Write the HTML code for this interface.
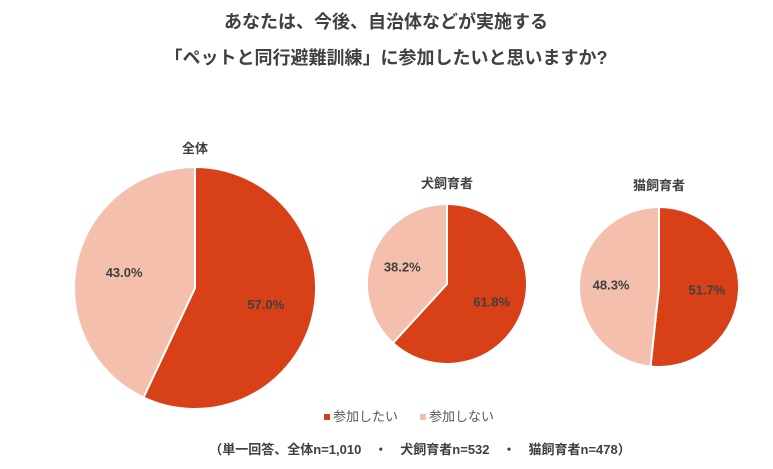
<!DOCTYPE html>
<html><head><meta charset="utf-8"><style>
body{margin:0;background:#fff;}
svg{display:block;font-family:"Liberation Sans","Noto Sans CJK JP",sans-serif;}
</style></head><body>
<svg id="c" width="773" height="469" viewBox="0 0 773 469">
<text x="386" y="28" text-anchor="middle" font-size="18" font-weight="bold" fill="#404040">あなたは、今後、自治体などが実施する</text>
<text x="386" y="64" text-anchor="middle" font-size="18" font-weight="bold" fill="#404040">「ペットと同行避難訓練」に参加したいと思いますか?</text>
<g id="pies"></g>
<rect x="324" y="414" width="6" height="6" fill="#d84018"/>
<text x="333" y="421" font-size="13" fill="#595959">参加したい</text>
<rect x="420" y="414" width="6" height="6" fill="#f5bfae"/>
<text x="429" y="421" font-size="13" fill="#595959">参加しない</text>
<text x="420" y="454" text-anchor="middle" font-size="13" font-weight="bold" fill="#404040">（単一回答、全体n=1,010　・　犬飼育者n=532　・　猫飼育者n=478）</text>
</svg>
<script>
const groups = ["全体","犬飼育者","猫飼育者"];
const yesValues = [57.0, 61.8, 51.7];
const noValues = [43.0, 38.2, 48.3];
const layout = [{cx:195,cy:288,r:121,ty:153},{cx:447,cy:284,r:80,ty:188},{cx:659,cy:287,r:80,ty:190}];
const colors = ["#d84018","#f5bfae"];
const ns = "http://www.w3.org/2000/svg";
const g = document.getElementById("pies");
function pt(cx,cy,r,a){return [cx+r*Math.sin(a), cy-r*Math.cos(a)];}
groups.forEach((name,i)=>{
  const L = layout[i];
  const vals=[yesValues[i],noValues[i]];
  const tot=vals[0]+vals[1];
  let start=0;
  vals.forEach((v,j)=>{
    const a0=start/tot*2*Math.PI, a1=(start+v)/tot*2*Math.PI;
    const p0=pt(L.cx,L.cy,L.r,a0), p1=pt(L.cx,L.cy,L.r,a1);
    const large=(a1-a0)>Math.PI?1:0;
    const path=document.createElementNS(ns,"path");
    path.setAttribute("d",`M${L.cx},${L.cy}L${p0[0]},${p0[1]}A${L.r},${L.r} 0 ${large} 1 ${p1[0]},${p1[1]}Z`);
    path.setAttribute("fill",colors[j]);
    path.setAttribute("stroke","#fff");
    path.setAttribute("stroke-width","2");
    
    
    g.appendChild(path);
    const mid=(a0+a1)/2;
    const lp=pt(L.cx,L.cy,L.r*0.6,mid);
    const t=document.createElementNS(ns,"text");
    t.setAttribute("x",lp[0]);t.setAttribute("y",lp[1]+5);
    t.setAttribute("text-anchor","middle");t.setAttribute("font-size","13");
    t.setAttribute("font-weight","bold");t.setAttribute("fill","#404040");
    t.textContent=v.toFixed(1)+"%";
    
    
    g.appendChild(t);
    start+=v;
  });
  const tt=document.createElementNS(ns,"text");
  tt.setAttribute("x",L.cx);tt.setAttribute("y",L.ty);
  tt.setAttribute("text-anchor","middle");tt.setAttribute("font-size","13");
  tt.setAttribute("font-weight","bold");tt.setAttribute("fill","#404040");
  tt.textContent=name;
  
  
  g.appendChild(tt);
});
</script>
</body></html>
